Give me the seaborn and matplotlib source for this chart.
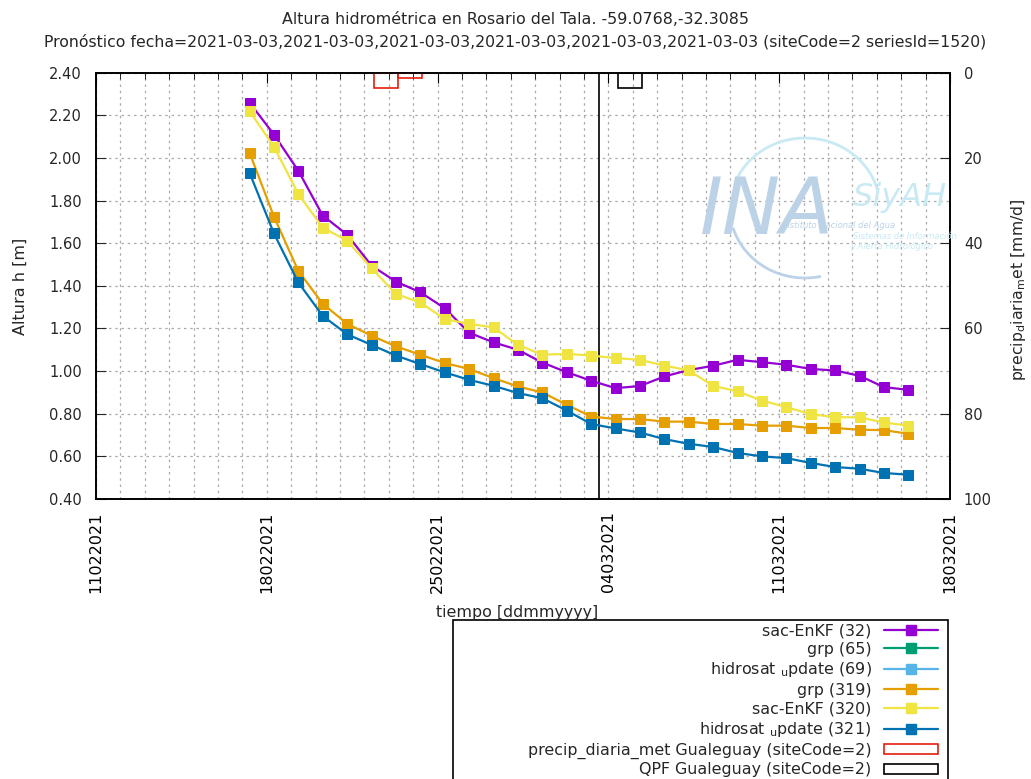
import pandas as pd
import numpy as np
import matplotlib
matplotlib.use("Agg")
import matplotlib.pyplot as plt
import matplotlib.dates as mdates
from matplotlib.lines import Line2D
from matplotlib.patches import Patch, Rectangle, Arc
import seaborn as sns

# daily forecast values (m)
dates = pd.date_range("2021-02-17 07:00", periods=28, freq="D")
sac_enkf_32 = [2.26, 2.11, 1.94, 1.73, 1.64, 1.495, 1.42, 1.37, 1.295, 1.18, 1.135, 1.10, 1.04, 0.995,
               0.955, 0.92, 0.93, 0.975, 1.005, 1.025, 1.053, 1.042, 1.03, 1.01, 1.003, 0.978, 0.925, 0.912]
sac_enkf_320 = [2.22, 2.053, 1.831, 1.673, 1.612, 1.483, 1.362, 1.322, 1.244, 1.222, 1.205, 1.123, 1.077, 1.081,
                1.073, 1.061, 1.053, 1.026, 1.003, 0.931, 0.905, 0.862, 0.831, 0.798, 0.784, 0.783, 0.759, 0.744]
grp_319 = [2.025, 1.725, 1.47, 1.316, 1.222, 1.166, 1.116, 1.077, 1.038, 1.01, 0.967, 0.928, 0.90, 0.842,
           0.787, 0.775, 0.775, 0.763, 0.763, 0.752, 0.752, 0.744, 0.744, 0.733, 0.733, 0.725, 0.723, 0.706]
hidrosat_321 = [1.931, 1.646, 1.416, 1.259, 1.173, 1.123, 1.073, 1.033, 0.994, 0.959, 0.931, 0.897, 0.873, 0.815,
                0.752, 0.731, 0.712, 0.681, 0.659, 0.644, 0.616, 0.600, 0.592, 0.569, 0.550, 0.542, 0.522, 0.514]

# precipitation (mm/d)
precip_dates = pd.to_datetime(["2021-02-22 09:00", "2021-02-23 09:00"])
precip_vals = [3.7, 1.2]
qpf_dates = pd.to_datetime(["2021-03-04 09:00"])
qpf_vals = [3.7]

forecast_time = pd.Timestamp("2021-03-03 14:40")
major_dates = pd.to_datetime(["2021-02-11", "2021-02-18", "2021-02-25", "2021-03-04", "2021-03-11", "2021-03-18"])

series = [
    ("sac-EnKF (32)", "#9400d3", sac_enkf_32),
    ("grp (65)", "#009e73", None),
    ("hidrosat $_{\\mathrm{u}}$pdate (69)", "#56b4e9", None),
    ("grp (319)", "#e69f00", grp_319),
    ("sac-EnKF (320)", "#f0e442", sac_enkf_320),
    ("hidrosat $_{\\mathrm{u}}$pdate (321)", "#0072b2", hidrosat_321),
]

sns.set_style("white")
plt.rcParams["font.family"] = ["DejaVu Sans"]

fig = plt.figure(figsize=(10.31, 7.79), dpi=100)
ax = fig.add_axes([96 / 1031, 1 - 499 / 779, 854 / 1031, 426.3 / 779])
ax2 = ax.twinx()

# watermark logo
logo_blue = "#bcd2e6"
logo_cyan = "#c9eaf3"
fig.text(700 / 1031, 1 - 234 / 779, "INA", fontsize=56, style="italic", color=logo_blue, zorder=0)
fig.text(853 / 1031, 1 - 206 / 779, "SiyAH", fontsize=23, style="italic", color=logo_cyan, zorder=0)
fig.text(782 / 1031, 1 - 228 / 779, "Instituto Nacional del Agua", fontsize=6, style="italic",
         color=logo_blue, zorder=0)
fig.text(853 / 1031, 1 - 239 / 779, "Sistemas de Información", fontsize=6, style="italic",
         color=logo_cyan, zorder=0)
fig.text(850 / 1031, 1 - 249 / 779, "y Alerta Hidrológico", fontsize=6, style="italic",
         color=logo_cyan, zorder=0)
fig.patches.append(Arc((805 / 1031, 1 - 208 / 779), 150 / 1031, 140 / 779, theta1=15, theta2=150,
                       transform=fig.transFigure, color=logo_cyan, lw=2, zorder=0))
fig.patches.append(Arc((805 / 1031, 1 - 208 / 779), 150 / 1031, 140 / 779, theta1=200, theta2=280,
                       transform=fig.transFigure, color=logo_blue, lw=2, zorder=0))

for label, color, vals in series:
    if vals is None:
        continue
    sns.lineplot(x=dates, y=vals, ax=ax, color=color, marker="s", markersize=7.5, markeredgecolor=color,
                 linewidth=1.6, legend=False, zorder=3)

ax.axvline(forecast_time, color="black", lw=1.2, zorder=2)

ax2.bar(precip_dates, precip_vals, width=1, align="edge", fill=False, edgecolor="#e51e10", lw=1.2)
ax2.bar(qpf_dates, qpf_vals, width=1, align="edge", fill=False, edgecolor="black", lw=1.2)

# axes
ax.set_xlim(pd.Timestamp("2021-02-11"), pd.Timestamp("2021-03-18"))
ax.set_ylim(0.4, 2.4)
ax.set_yticks(np.arange(0.4, 2.41, 0.2))
ax.yaxis.set_major_formatter(matplotlib.ticker.FormatStrFormatter("%.2f"))
ax.xaxis.set_major_locator(matplotlib.ticker.FixedLocator(mdates.date2num(major_dates)))
ax.xaxis.set_minor_locator(mdates.DayLocator())
ax.xaxis.set_major_formatter(mdates.DateFormatter("%d%m%Y"))
ax2.set_ylim(100, 0)
ax2.set_yticks([0, 20, 40, 60, 80, 100])

ax.grid(which="both", axis="x", color="#ababab", linestyle=(0, (2, 3)), lw=0.9)
ax.grid(which="major", axis="y", color="#ababab", linestyle=(0, (2, 3)), lw=0.9)

ax.tick_params(axis="x", which="major", direction="in", length=7, top=True, labelsize=11.5,
               labelrotation=90, colors="black", pad=9)
ax.tick_params(axis="x", which="minor", direction="in", length=4, top=True, color="black")
ax.tick_params(axis="y", direction="in", length=7, left=True, right=False, labelsize=10.5, pad=10)
ax2.tick_params(axis="y", direction="in", length=7, labelsize=10.5, pad=10)
for a in (ax, ax2):
    for s in a.spines.values():
        s.set_color("black")
        s.set_linewidth(1.2)

ax.set_xlabel("")
ax.set_ylabel("")
fig.text(20 / 1031, 1 - 286 / 779, "Altura h [m]", rotation=90, ha="center", va="center", fontsize=11.5)
fig.text(1019 / 1031, 1 - 290 / 779, "precip$_{\\mathrm{d}}$iaria$_{\\mathrm{m}}$et [mm/d]", rotation=90,
         ha="center", va="center", fontsize=11.3)
fig.text(517 / 1031, 1 - 612 / 779, "tiempo [ddmmyyyy]", ha="center", va="center", fontsize=11.4)

fig.text(515 / 1031, 1 - 20 / 779, "Altura hidrométrica en Rosario del Tala. -59.0768,-32.3085",
         ha="center", va="center", fontsize=11.4)
fig.text(515 / 1031, 1 - 42 / 779,
         "Pronóstico fecha=2021-03-03,2021-03-03,2021-03-03,2021-03-03,2021-03-03,2021-03-03 (siteCode=2 seriesId=1520)",
         ha="center", va="center", fontsize=11.3)

# legend
handles, labels = [], []
for label, color, vals in series:
    handles.append(Line2D([], [], color=color, marker="s", markersize=7.5, lw=1.6))
    labels.append(label)
handles.append(Patch(facecolor="none", edgecolor="#e51e10", lw=1.2))
labels.append("precip_diaria_met Gualeguay (siteCode=2)")
handles.append(Patch(facecolor="none", edgecolor="black", lw=1.2))
labels.append("QPF Gualeguay (siteCode=2)")

fig.patches.append(Rectangle((453 / 1031, -0.02), 495 / 1031, (1 - 620 / 779) + 0.02,
                             transform=fig.transFigure, fill=False, edgecolor="black", lw=1.2))
fig.legend(handles, labels, loc="upper right", bbox_to_anchor=(949 / 1031, 1 - 612 / 779),
           bbox_transform=fig.transFigure, frameon=False, markerfirst=False, fontsize=11.4,
           handlelength=3.4, handletextpad=0.8, labelspacing=0.225, borderpad=0.2, handleheight=0.6)

fig.savefig("out.png", dpi=100)
